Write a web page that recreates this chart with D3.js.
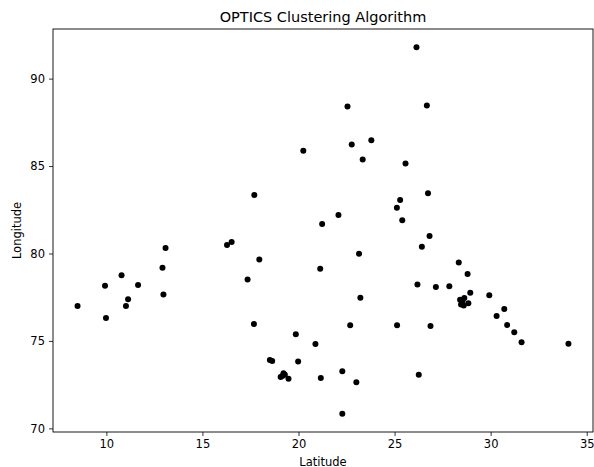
<!DOCTYPE html>
<html>
<head>
<meta charset="utf-8">
<script src="https://cdn.jsdelivr.net/npm/d3@7"></script>
<style>
  body { margin:0; background:#fff; }
  text { font-family: "DejaVu Sans", sans-serif; fill:#000; }
</style>
</head>
<body>
<svg id="chart" width="594" height="467"></svg>
<script>
// latitude / longitude of every point
var lats = [8.50, 9.93, 9.98, 10.79, 11.02, 11.13, 11.65, 12.92, 12.97, 13.08,
  16.28, 16.52, 17.96, 17.35, 17.68, 17.70, 18.51, 18.63, 19.86, 19.98,
  19.07, 19.22, 19.29, 19.48, 19.16,
  20.25, 20.88, 21.13, 21.16, 21.23, 22.08, 22.28, 22.28, 22.55, 22.69,
  22.77, 23.01, 23.15, 23.22, 23.34, 23.79, 25.13, 25.12, 25.29, 25.40,
  25.57, 26.14, 26.19, 26.26, 26.42, 26.68, 26.74, 26.82, 26.87, 27.15,
  27.85, 28.34, 28.80, 28.94, 29.93,
  28.41, 28.63, 28.84, 28.46, 28.60, 28.53,
  30.71, 30.31, 30.86, 31.23, 31.61, 34.05];
var longs = [77.00, 78.16, 76.31, 78.75, 77.00, 77.38, 78.20, 79.19, 77.65, 80.32,
  80.49, 80.66, 79.65, 78.52, 75.97, 83.35, 73.91, 73.85, 75.38, 73.83,
  72.94, 73.15, 73.07, 72.84, 72.99,
  85.88, 74.83, 79.13, 72.88, 81.69, 82.20, 73.26, 70.84, 88.40, 75.90,
  86.23, 72.64, 79.99, 77.47, 85.37, 86.47, 75.89, 82.62, 83.06, 81.90,
  85.14, 91.79, 78.23, 73.07, 80.38, 88.47, 83.44, 81.00, 75.86, 78.08,
  78.13, 79.48, 78.83, 77.76, 77.61,
  77.36, 77.45, 77.15, 77.09, 77.02, 77.25,
  76.83, 76.43, 75.91, 75.49, 74.92, 74.84];

var xTicks = [10, 15, 20, 25, 30, 35];
var yTicks = [70, 75, 80, 85, 90];

var svg = d3.select("#chart");
var plotLeft = 53, plotRight = 593, plotTop = 29, plotBottom = 432;

// matplotlib style 5% margins around the data
var xmin = d3.min(lats), xmax = d3.max(lats);
var ymin = d3.min(longs), ymax = d3.max(longs);
var xpad = (xmax - xmin) * 0.05, ypad = (ymax - ymin) * 0.05;

var x = d3.scaleLinear().domain([xmin - xpad, xmax + xpad]).range([plotLeft, plotRight]);
var y = d3.scaleLinear().domain([ymin - ypad, ymax + ypad]).range([plotBottom, plotTop]);

// points
svg.append("g").selectAll("circle")
  .data(lats)
  .enter().append("circle")
  .attr("cx", function(d){ return x(d); })
  .attr("cy", function(d, i){ return y(longs[i]); })
  .attr("r", 3)
  .attr("fill", "#000004");

// axes
var xAxis = svg.append("g")
  .attr("transform", "translate(0," + plotBottom + ")")
  .call(d3.axisBottom(x).tickValues(xTicks).tickSize(4).tickPadding(4).tickFormat(d3.format("d")));
var yAxis = svg.append("g")
  .attr("transform", "translate(" + plotLeft + ",0)")
  .call(d3.axisLeft(y).tickValues(yTicks).tickSize(4).tickPadding(4).tickFormat(d3.format("d")));

[xAxis, yAxis].forEach(function(g){
  g.select(".domain").remove();
  g.selectAll("text").style("font-size", "11.5px").style("font-family", "DejaVu Sans");
  g.selectAll("line").attr("stroke", "#000").attr("stroke-width", 0.8);
});

// frame
svg.append("rect")
  .attr("x", plotLeft).attr("y", plotTop)
  .attr("width", plotRight - plotLeft).attr("height", plotBottom - plotTop)
  .attr("fill", "none").attr("stroke", "#000").attr("stroke-width", 0.9);

svg.append("text")
  .text("OPTICS Clustering Algorithm")
  .attr("x", (plotLeft + plotRight) / 2).attr("y", 22)
  .attr("text-anchor", "middle")
  .style("font-size", "14.5px");

svg.append("text")
  .text("Latitude")
  .attr("x", (plotLeft + plotRight) / 2).attr("y", 466)
  .attr("text-anchor", "middle")
  .style("font-size", "11.5px");

svg.append("text")
  .text("Longitude")
  .attr("transform", "translate(21," + ((plotTop + plotBottom) / 2) + ") rotate(-90)")
  .attr("text-anchor", "middle")
  .style("font-size", "11.5px");
</script>
</body>
</html>
